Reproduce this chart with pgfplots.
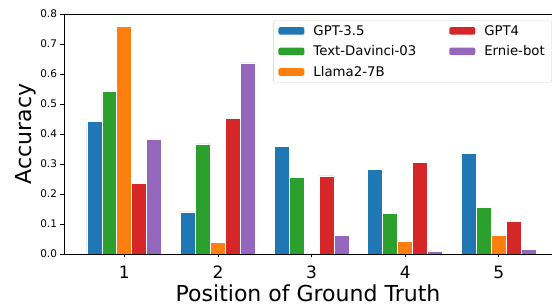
\documentclass[border=0pt]{standalone}
\usepackage{pgfplots}
\pgfplotsset{compat=1.18}
\usepackage{fontspec}
\setmainfont{DejaVu Sans}
\definecolor{cblue}{HTML}{1F77B4}
\definecolor{corange}{HTML}{FF7F0E}
\definecolor{cgreen}{HTML}{2CA02C}
\definecolor{cred}{HTML}{D62728}
\definecolor{cpurple}{HTML}{9467BD}
\begin{document}
\begin{tikzpicture}
\begin{axis}[
  scale only axis, width=488pt, height=240pt,
  xmin=0.355, xmax=5.568, ymin=0, ymax=0.8,
  axis x line*=box, axis y line*=left,
  axis line style={line width=0.8pt, black},
  xtick={1,2,3,4,5}, ytick={0,0.1,0.2,0.3,0.4,0.5,0.6,0.7,0.8},
  xtick pos=bottom, ytick pos=left,
  tick align=outside, major tick length=3.5pt,
  tick style={black, line width=0.8pt},
  /pgf/number format/assume math mode=true,
  yticklabel style={font=\fontsize{10.5}{12}\selectfont, /pgf/number format/fixed, /pgf/number format/fixed zerofill, /pgf/number format/precision=1},
  xticklabel style={font=\fontsize{17}{20}\selectfont, yshift=-5pt},
  xlabel={Position of Ground Truth}, ylabel={Accuracy},
  label style={font=\fontsize{22}{26}\selectfont},
  xlabel style={yshift=1pt},
  ylabel style={yshift=-3pt},
  legend image code/.code={\fill[#1, draw=none] (0pt,-3.8pt) rectangle (26pt,3.8pt);},
  legend style={at={(1,1)}, anchor=north east, xshift=0pt, yshift=-6.5pt,
    legend columns=2, draw=black!18, rounded corners=2pt,
    font=\fontsize{13.3}{16}\selectfont, legend cell align=left,
    row sep=5pt,
    /tikz/every odd column/.append style={column sep=7pt},
    /tikz/every even column/.append style={column sep=31pt},
    inner xsep=5pt, inner ysep=2.5pt},
]
\coordinate (o) at (rel axis cs:0,0);
\addplot[ybar, bar width=0.16, bar shift=-0.32, fill=cblue, draw=white, line width=0.8pt, forget plot]
  coordinates {(1,0.442) (2,0.140) (3,0.359) (4,0.282) (5,0.336)};
\addplot[ybar, bar width=0.16, bar shift=-0.16, fill=cgreen, draw=white, line width=0.8pt, forget plot]
  coordinates {(1,0.543) (2,0.367) (3,0.256) (4,0.136) (5,0.154)};
\addplot[ybar, bar width=0.16, bar shift=0, fill=corange, draw=white, line width=0.8pt, forget plot]
  coordinates {(1,0.760) (2,0.037) (3,0.000) (4,0.041) (5,0.061)};
\addplot[ybar, bar width=0.16, bar shift=0.16, fill=cred, draw=white, line width=0.8pt, forget plot]
  coordinates {(1,0.234) (2,0.453) (3,0.260) (4,0.304) (5,0.107)};
\addplot[ybar, bar width=0.16, bar shift=0.32, fill=cpurple, draw=white, line width=0.8pt, forget plot]
  coordinates {(1,0.381) (2,0.637) (3,0.062) (4,0.009) (5,0.014)};
\addlegendimage{fill=cblue}\addlegendentry{GPT-3.5}
\addlegendimage{fill=cred}\addlegendentry{GPT4}
\addlegendimage{fill=cgreen}\addlegendentry{Text-Davinci-03}
\addlegendimage{fill=cpurple}\addlegendentry{Ernie-bot}
\addlegendimage{fill=corange}\addlegendentry{Llama2-7B}
\end{axis}
\pgfresetboundingbox
\path[use as bounding box] (o) ++(-64pt,-53pt) rectangle ++(552pt,307pt);
\end{tikzpicture}
\end{document}
